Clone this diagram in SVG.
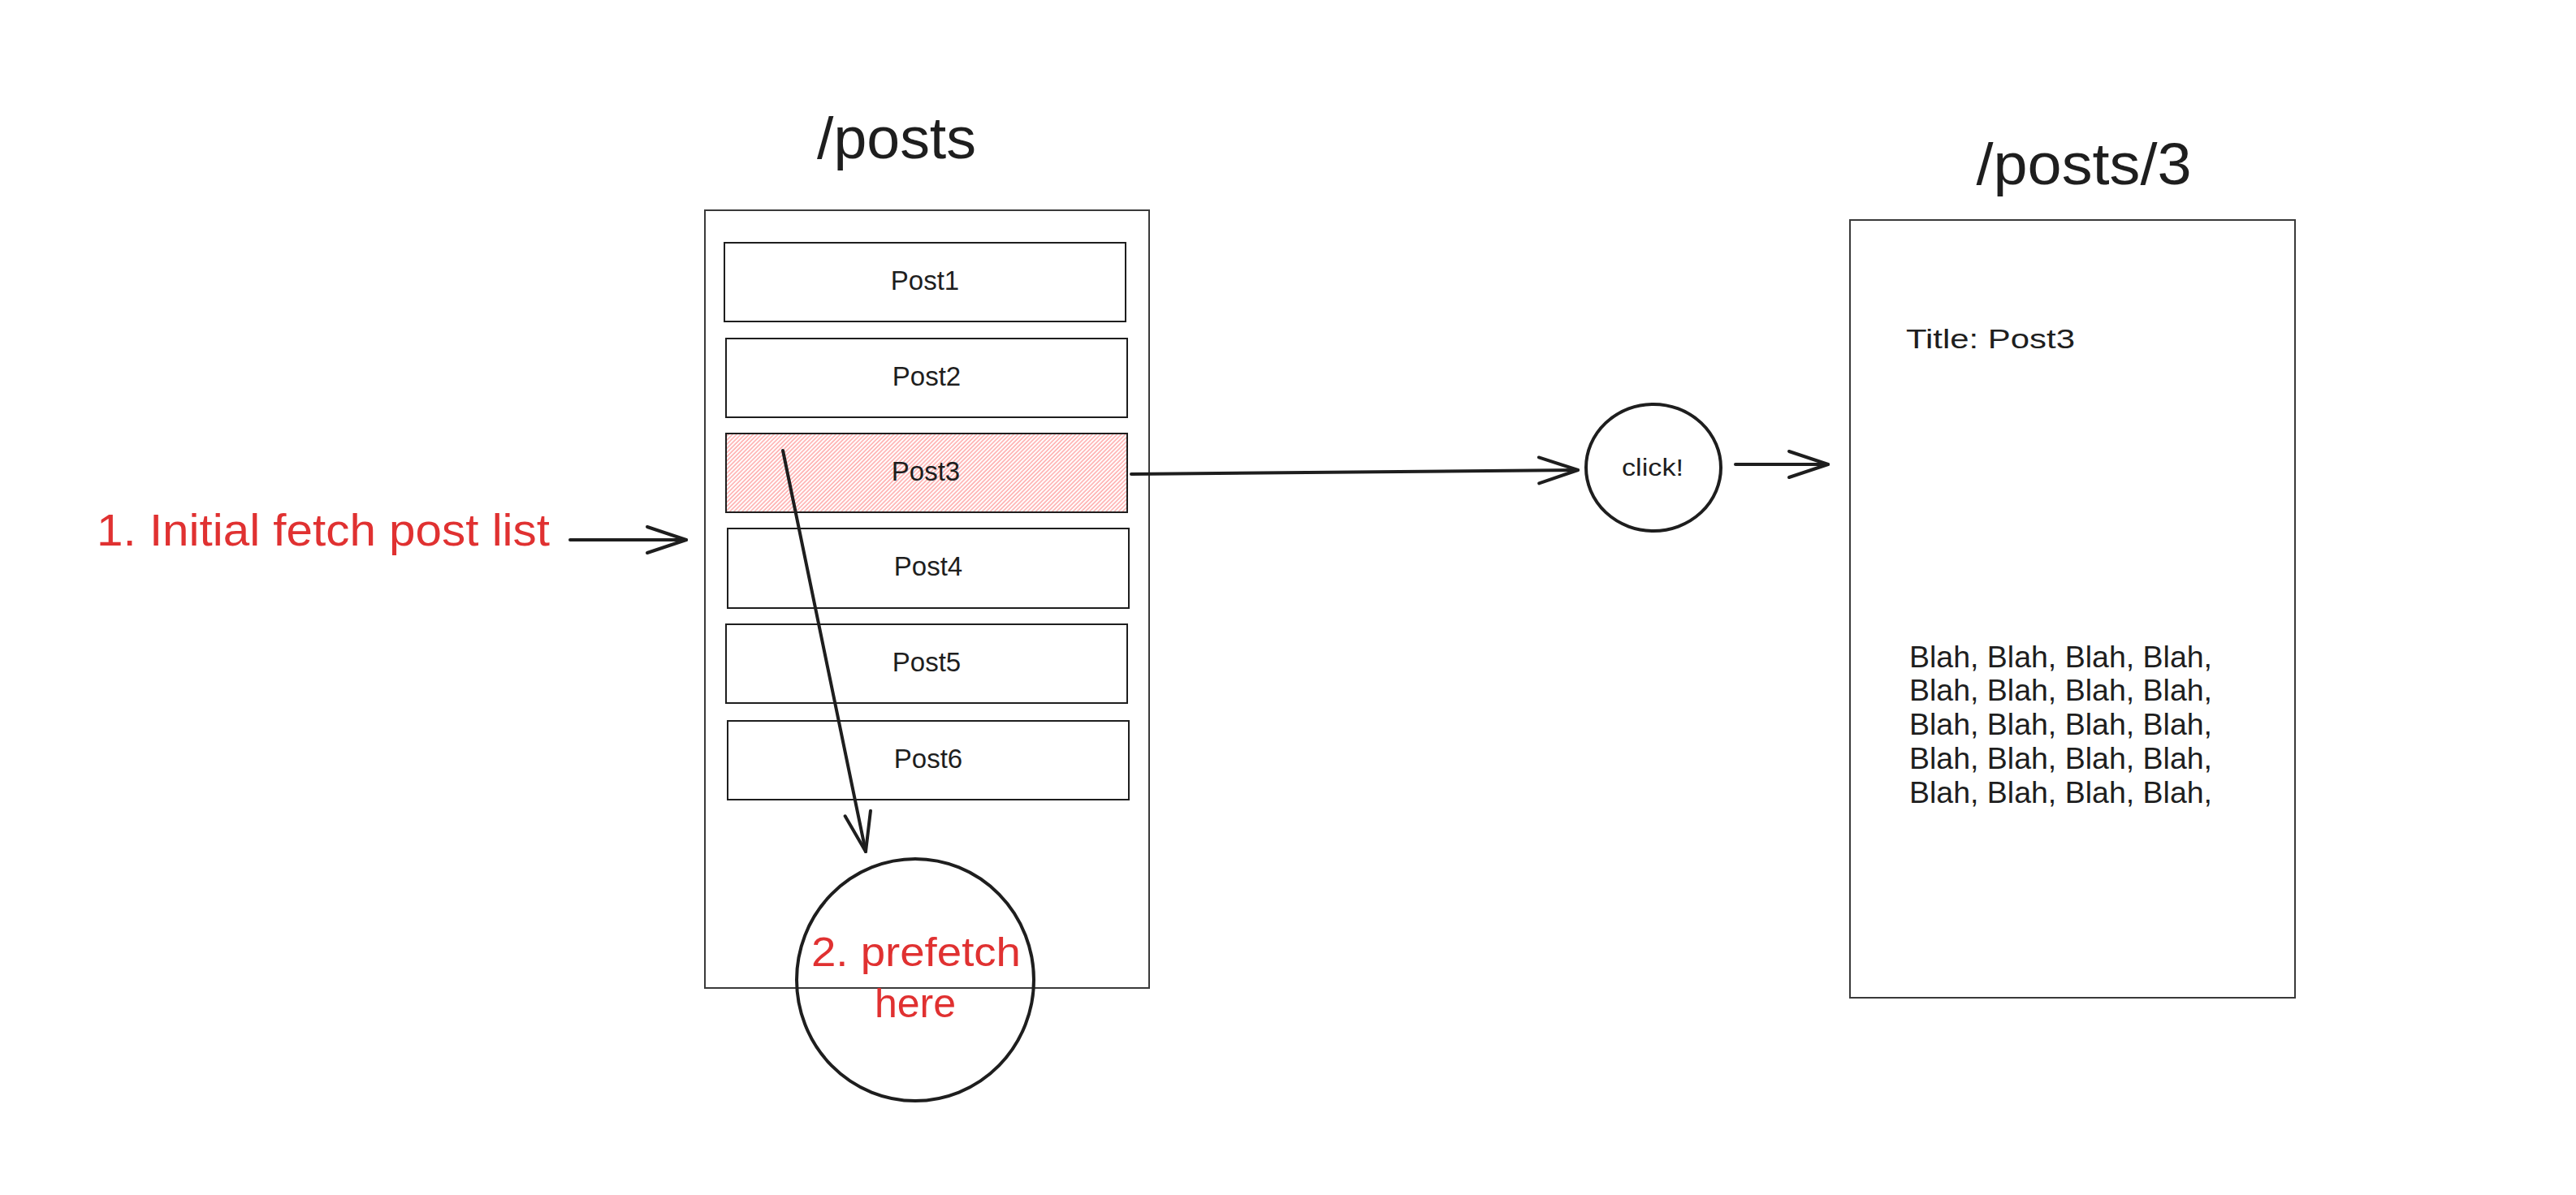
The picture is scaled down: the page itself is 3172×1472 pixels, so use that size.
<svg xmlns="http://www.w3.org/2000/svg" width="3172" height="1472" viewBox="0 0 3172 1472">
<defs>
<style>
.frame{fill:none;stroke:#3a3a3a;stroke-width:2}
.box{fill:none;stroke:#1e1e1e;stroke-width:2}
.circ{fill:none;stroke:#1e1e1e;stroke-width:4}
.t{font-family:"Liberation Sans",Arial,sans-serif;fill:#1e1e1e}
.red{fill:#e03131}
.mid{text-anchor:middle}
.conn{fill:none;stroke:#1e1e1e;stroke-width:4;stroke-linecap:round}
</style>
<pattern id="hatch" patternUnits="userSpaceOnUse" width="3.6" height="10" patternTransform="rotate(45)">
<line x1="1" y1="-1" x2="1" y2="11" stroke="#ff8a8a" stroke-width="1.1"/>
</pattern>
<marker id="arrow" markerUnits="userSpaceOnUse" markerWidth="60" markerHeight="40" viewBox="-52 -20 56 40" refX="0" refY="0" orient="auto" overflow="visible">
<path d="M -48 -16 L 0 0 L -48 16" fill="none" stroke="#1e1e1e" stroke-width="4" stroke-linecap="round" stroke-linejoin="round"/>
</marker>
</defs>
<rect width="3172" height="1472" fill="#ffffff"/>

<g id="posts-page">
<text class="t" x="1104" y="195" font-size="72" text-anchor="middle" textLength="196" lengthAdjust="spacingAndGlyphs">/posts</text>
<rect class="frame" x="868" y="259" width="547" height="958"/>
</g>

<g id="post1"><rect class="box" x="892" y="299" width="494" height="97"/><text class="t mid" x="1139" y="357" font-size="33">Post1</text></g>
<g id="post2"><rect class="box" x="894" y="417" width="494" height="97"/><text class="t mid" x="1141" y="475" font-size="33">Post2</text></g>
<g id="post3"><rect x="894" y="534" width="494" height="97" fill="url(#hatch)"/><rect class="box" x="894" y="534" width="494" height="97"/><text class="t mid" x="1140" y="592" font-size="33">Post3</text></g>
<g id="post4"><rect class="box" x="896" y="651" width="494" height="98"/><text class="t mid" x="1143" y="709" font-size="33">Post4</text></g>
<g id="post5"><rect class="box" x="894" y="769" width="494" height="97"/><text class="t mid" x="1141" y="827" font-size="33">Post5</text></g>
<g id="post6"><rect class="box" x="896" y="888" width="494" height="97"/><text class="t mid" x="1143" y="946" font-size="33">Post6</text></g>

<g id="initial-fetch">
<text class="t red" x="119" y="672" font-size="56" textLength="558" lengthAdjust="spacingAndGlyphs">1. Initial fetch post list</text>
</g>

<g id="prefetch">
<ellipse class="circ" cx="1127" cy="1207" rx="146" ry="149"/>
<text class="t red mid" x="1128" y="1190" font-size="50" textLength="258" lengthAdjust="spacingAndGlyphs">2. prefetch</text>
<text class="t red mid" x="1127" y="1253" font-size="50">here</text>
</g>

<g id="click">
<ellipse class="circ" cx="2036" cy="576" rx="83" ry="78"/>
<text class="t mid" x="2035" y="586" font-size="30" textLength="76" lengthAdjust="spacingAndGlyphs">click!</text>
</g>

<g id="post-detail">
<text class="t" x="2566" y="227" font-size="72" text-anchor="middle" textLength="265" lengthAdjust="spacingAndGlyphs">/posts/3</text>
<rect class="frame" x="2278" y="271" width="548" height="958"/>
<text class="t" x="2347" y="429" font-size="34" textLength="208" lengthAdjust="spacingAndGlyphs">Title: Post3</text>
<text class="t" font-size="36">
<tspan x="2351" y="822" textLength="373" lengthAdjust="spacingAndGlyphs">Blah, Blah, Blah, Blah,</tspan>
<tspan x="2351" y="863" textLength="373" lengthAdjust="spacingAndGlyphs">Blah, Blah, Blah, Blah,</tspan>
<tspan x="2351" y="905" textLength="373" lengthAdjust="spacingAndGlyphs">Blah, Blah, Blah, Blah,</tspan>
<tspan x="2351" y="947" textLength="373" lengthAdjust="spacingAndGlyphs">Blah, Blah, Blah, Blah,</tspan>
<tspan x="2351" y="989" textLength="373" lengthAdjust="spacingAndGlyphs">Blah, Blah, Blah, Blah,</tspan>
</text>
</g>

<g id="connectors">
<line class="conn" x1="702" y1="665" x2="845" y2="665" marker-end="url(#arrow)"/>
<line class="conn" x1="1393" y1="584" x2="1943" y2="579" marker-end="url(#arrow)"/>
<line class="conn" x1="2137" y1="572" x2="2251" y2="572" marker-end="url(#arrow)"/>
<line class="conn" x1="964" y1="555" x2="1066" y2="1049" marker-end="url(#arrow)"/>
</g>
</svg>
